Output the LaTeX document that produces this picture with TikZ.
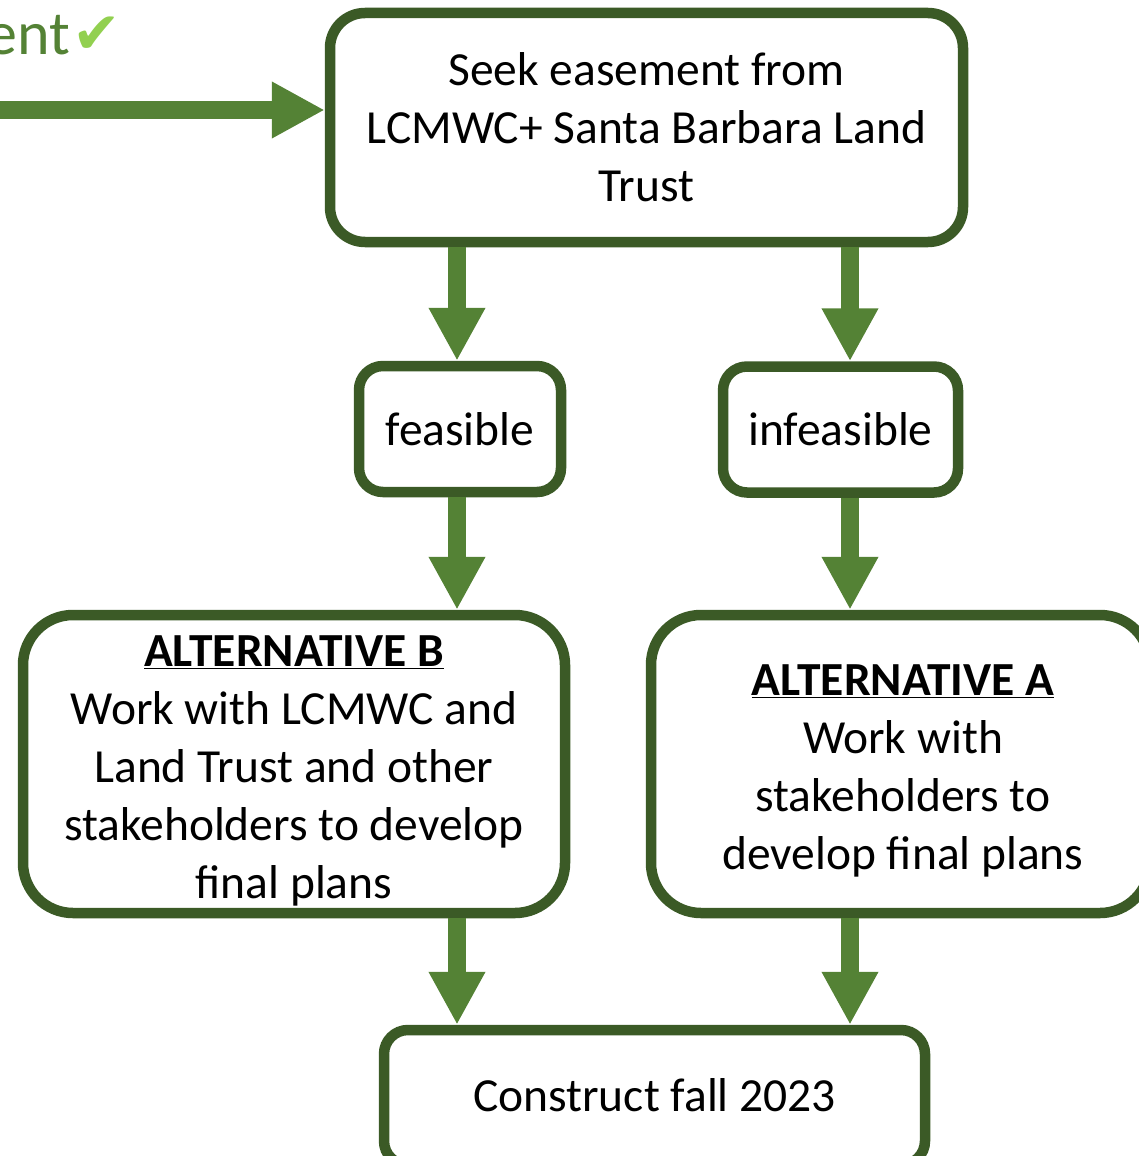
\documentclass[tikz,border=0pt]{standalone}
\usepackage{fontspec}
\setmainfont{Carlito}
\newfontfamily\symfont{DejaVu Sans}
\usetikzlibrary{arrows.meta}
\definecolor{shaftgreen}{HTML}{548235}
\definecolor{bordergreen}{HTML}{3B5A26}
\definecolor{checkgreen}{HTML}{92D050}
\tikzset{
  box/.style={draw=bordergreen, line width=10.5pt, fill=white, inner sep=0pt, align=center,
    font=\fontsize{47.5}{58}\selectfont},
  boxtext/.style={font=\fontsize{47.5}{58}\selectfont, align=center, inner sep=0pt},
  flowarrow/.style={draw=shaftgreen, line width=18pt, -{Triangle[length=53pt,width=53pt]}},
}
\begin{document}
\begin{tikzpicture}[x=1pt,y=-1pt]
\useasboundingbox (0,0) rectangle (1138,1156);
\coordinate (cl) at (457,0);
\coordinate (cr) at (850,0);
\coordinate (lstart) at (-10,110);
\node[box, rounded corners=35pt, minimum width=633pt, minimum height=229pt] (top) at (646.5,127.5)
  {Seek easement from\\LCMWC+ Santa Barbara Land\\Trust};
\node[box, rounded corners=24pt, minimum width=202pt, minimum height=126pt] (feas) at (460,429)
  {feasible};
\node[box, rounded corners=24pt, minimum width=235pt, minimum height=126pt] (infeas) at (840.5,429.5)
  {infeasible};
\node[box, rounded corners=50pt, minimum width=542pt, minimum height=298pt] (altb) at (294,764) {};
\node[boxtext] (altbtext) at (294,771)
  {\textbf{\underline{ALTERNATIVE B}}\\Work with LCMWC and\\Land Trust and other\\stakeholders to develop\\final plans};
\node[box, rounded corners=50pt, minimum width=499pt, minimum height=298pt] (alta) at (900.5,764) {};
\node[boxtext] (altatext) at (903,771)
  {\textbf{\underline{ALTERNATIVE A}}\\Work with\\stakeholders to\\develop final plans};
\node[box, rounded corners=24pt, minimum width=541pt, minimum height=135pt] (cons) at (654.5,1097.5)
  {\raisebox{5pt}{Construct fall 2023}};
\node[anchor=base east, inner sep=0pt, text=shaftgreen, font=\fontsize{62}{70}\selectfont] (ent) at (70,55)
  {ent};
\node[anchor=base west, inner sep=0pt, text=checkgreen, font=\symfont\fontsize{58}{60}\selectfont] (check) at (72,54)
  {✔};
\draw[flowarrow] (lstart) -- (lstart -| top.west);
\draw[flowarrow] (top.south -| cl) -- (feas.north -| cl);
\draw[flowarrow] (top.south -| cr) -- (infeas.north -| cr);
\draw[flowarrow] (feas.south -| cl) -- (altb.north -| cl);
\draw[flowarrow] (infeas.south -| cr) -- (alta.north -| cr);
\draw[flowarrow] (altb.south -| cl) -- (cons.north -| cl);
\draw[flowarrow] (alta.south -| cr) -- (cons.north -| cr);
\end{tikzpicture}
\end{document}
